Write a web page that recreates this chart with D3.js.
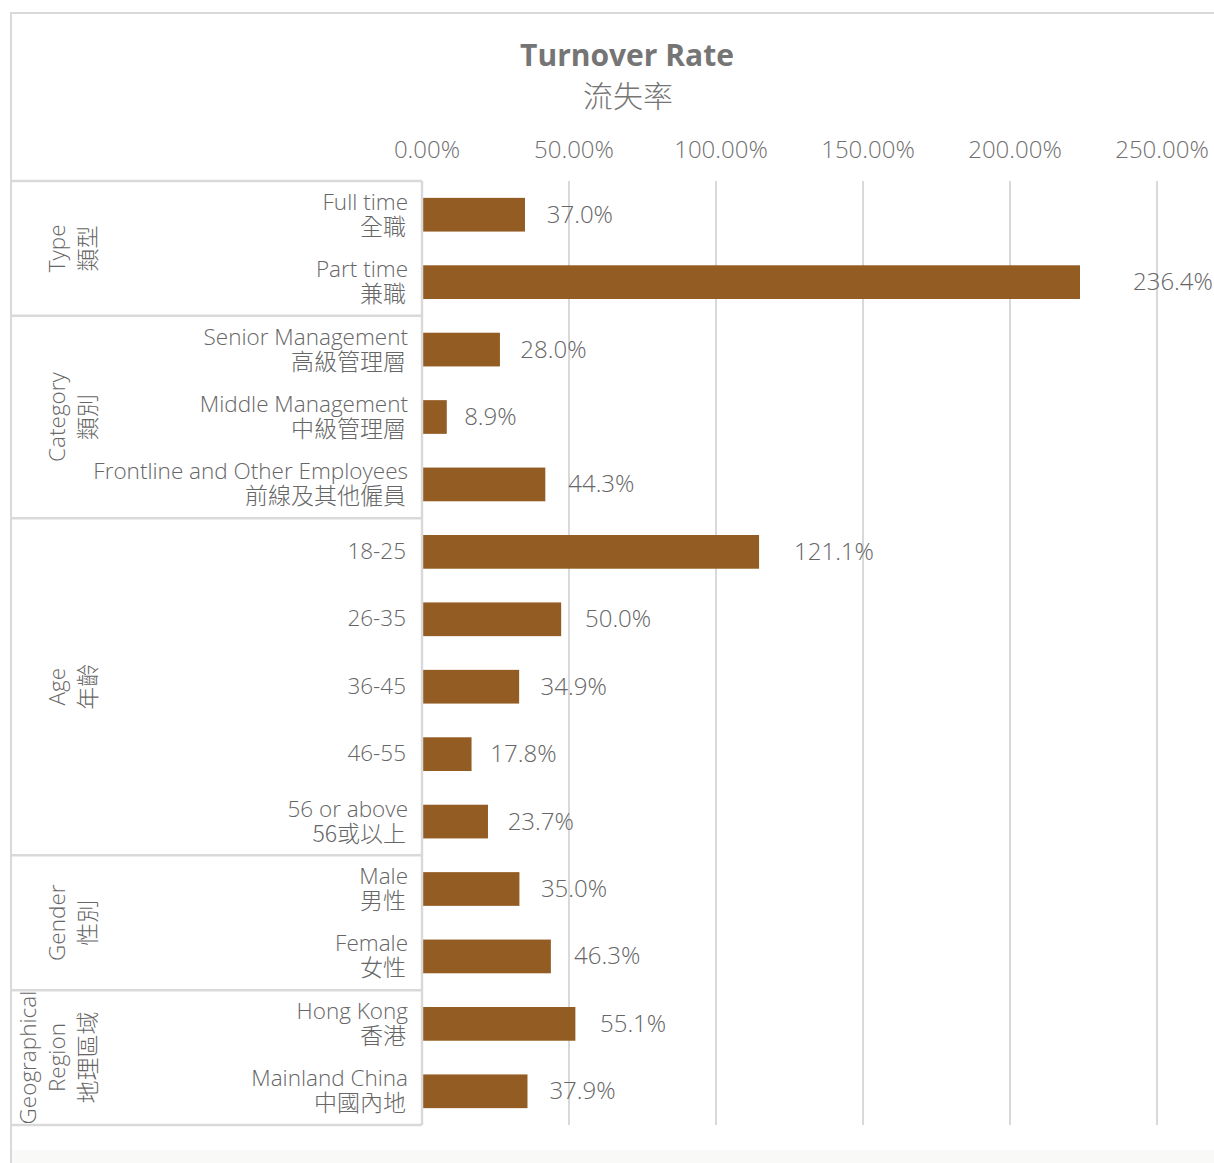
<!DOCTYPE html>
<html><head><meta charset="utf-8">
<script src="https://cdn.jsdelivr.net/npm/d3@7"></script>
<style>
body{margin:0;background:#fff;}
text{font-family:"Open Sans","Noto Sans","Noto Sans CJK TC",sans-serif;fill:#666;font-weight:300;}
.zh{font-family:"Noto Sans CJK TC","Noto Sans CJK SC",sans-serif;font-weight:300;}
</style></head><body>
<svg id="c" width="1214" height="1163"></svg>
<script>
// ---- data ----
const categoriesEn = ["Full time","Part time","Senior Management","Middle Management","Frontline and Other Employees","18-25","26-35","36-45","46-55","56 or above","Male","Female","Hong Kong","Mainland China"];
const categoriesZh = ["全職","兼職","高級管理層","中級管理層","前線及其他僱員","","","","","56或以上","男性","女性","香港","中國內地"];
const turnoverRate = [37.0,236.4,28.0,8.9,44.3,121.1,50.0,34.9,17.8,23.7,35.0,46.3,55.1,37.9];
const groupNamesEn = [["Type"],["Category"],["Age"],["Gender"],["Geographical","Region"]];
const groupNamesZh = ["類型","類別","年齡","性別","地理區域"];
const groupSizes = [2,3,5,2,2];
const tickValues = [0,50,100,150,200,250];
const tickLabels = ["0.00%","50.00%","100.00%","150.00%","200.00%","250.00%"];

const svg = d3.select("#c");
const X0 = 422, TOP = 181, BOT = 1125;
const grid = "#d9d9d9";

// outer frame
svg.append("rect").attr("x",11).attr("y",13).attr("width",1215).attr("height",1170)
  .attr("fill","none").attr("stroke",grid).attr("stroke-width",2);
svg.append("rect").attr("x",12).attr("y",1150).attr("width",1202).attr("height",13).attr("fill","#f9f9f7");

// scales
const axisX = d3.scaleLinear().domain([0,250]).range([X0,1157]);
const barX = d3.scaleLinear().domain([0,250]).range([X0, X0 + 250*(658/236.4)]);
const y = d3.scaleBand().domain(d3.range(categoriesEn.length)).range([TOP,BOT]).paddingInner(0.5).paddingOuter(0.25);

// title
svg.append("text").attr("x",627).attr("y",66).attr("text-anchor","middle")
  .style("font-size","30px").style("font-weight","bold").style("fill","#757575").text("Turnover Rate");
svg.append("text").attr("class","zh").attr("x",628).attr("y",107).attr("text-anchor","middle")
  .style("font-size","30px").style("fill","#757575").text("流失率");

// gridlines
svg.append("g").selectAll("line").data(tickValues.filter(v=>v>0)).join("line")
  .attr("x1",d=>axisX(d)).attr("x2",d=>axisX(d)).attr("y1",TOP).attr("y2",BOT)
  .attr("stroke",grid).attr("stroke-width",2);

// tick labels
svg.append("g").selectAll("text").data(tickValues).join("text")
  .attr("x",(d)=>axisX(d)+5).attr("y",158).attr("text-anchor","middle")
  .style("font-size","24px").style("fill","#707070").text((d,i)=>tickLabels[i]);

// bars
svg.append("g").selectAll("rect").data(turnoverRate).join("rect")
  .attr("x",X0).attr("y",(d,i)=>y(i)).attr("height",y.bandwidth())
  .attr("width",d=>barX(d)-X0).attr("fill","#935c22");

// data labels
svg.append("g").selectAll("text").data(turnoverRate).join("text")
  .attr("x",d=>axisX(d)+16).attr("y",(d,i)=>y(i)+y.bandwidth()/2+8)
  .style("font-size","24px").style("fill","#666").text(d=>d.toFixed(1)+"%");

// category labels
const step = y.step();
const rowC = i => y(i)+y.bandwidth()/2;
const cl = svg.append("g");
categoriesEn.forEach((en,i)=>{
  const zh = categoriesZh[i];
  if(zh){
    cl.append("text").attr("x",408).attr("y",rowC(i)-5).attr("text-anchor","end")
      .style("font-size","22.5px").text(en);
    cl.append("text").attr("class","zh").attr("x",406).attr("y",rowC(i)+20).attr("text-anchor","end")
      .style("font-size","23px").text(zh);
  } else {
    cl.append("text").attr("x",406).attr("y",rowC(i)+7).attr("text-anchor","end")
      .style("font-size","22.5px").text(en);
  }
});

// group boxes
let start = 0;
const gb = svg.append("g");
const bounds = [TOP];
groupSizes.forEach((n,gi)=>{
  const yTop = TOP + start*step, yBot = TOP + (start+n)*step;
  bounds.push(yBot);
  const cy = (yTop+yBot)/2;
  const en = groupNamesEn[gi];
  const zhX = 88, enXs = en.length===1 ? [57] : [28,57];
  en.forEach((t,k)=>{
    gb.append("text").attr("transform",`translate(${enXs[k]+8},${cy}) rotate(-90)`)
      .attr("text-anchor","middle").style("font-size","22.5px").text(t);
  });
  gb.append("text").attr("class","zh").attr("transform",`translate(${zhX+8},${cy}) rotate(-90)`)
    .attr("text-anchor","middle").style("font-size","23px").text(groupNamesZh[gi]);
  start += n;
});
gb.selectAll("line.h").data(bounds).join("line")
  .attr("x1",11).attr("x2",X0).attr("y1",d=>d).attr("y2",d=>d)
  .attr("stroke",grid).attr("stroke-width",2.5);
gb.append("line").attr("x1",X0).attr("x2",X0).attr("y1",TOP).attr("y2",BOT)
  .attr("stroke",grid).attr("stroke-width",2.5);
</script>
</body></html>
